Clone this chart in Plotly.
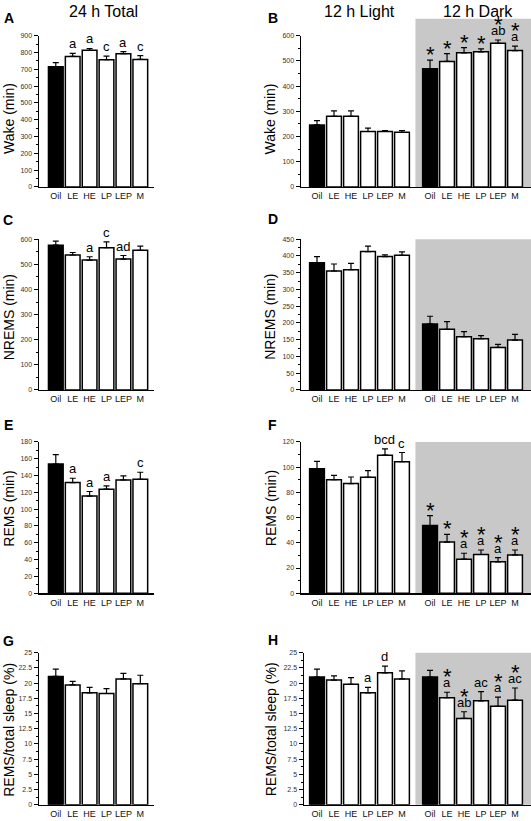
import plotly.graph_objects as go

FONT = "Liberation Sans, Arial, sans-serif"

categories = ["Oil", "LE", "HE", "LP", "LEP", "M"]

# Panel A: Wake 24 h total
wake_24 = [716, 777, 813, 757, 793, 759]
wake_24_err = [24, 18, 11, 22, 12, 22]
wake_24_lab = ["", "a", "a", "c", "a", "c"]

# Panel B: Wake 12 h light / dark
wake_light = [246, 280, 280, 220, 220, 217]
wake_light_err = [17, 22, 22, 13, 4, 7]
wake_light_lab = ["", "", "", "", "", ""]
wake_dark = [469, 498, 532, 536, 570, 541]
wake_dark_err = [34, 31, 21, 12, 13, 18]
wake_dark_lab = ["", "", "", "", "ab", "a"]
wake_dark_star = [1, 1, 1, 1, 1, 1]

# Panel C: NREMS 24 h
nrems_24 = [576, 537, 517, 566, 521, 556]
nrems_24_err = [16, 10, 13, 23, 14, 16]
nrems_24_lab = ["", "", "a", "c", "ad", ""]

# Panel D: NREMS 12 h
nrems_light = [380, 355, 359, 413, 398, 402]
nrems_light_err = [18, 21, 19, 16, 5, 10]
nrems_light_lab = ["", "", "", "", "", ""]
nrems_dark = [197, 181, 159, 153, 127, 149]
nrems_dark_err = [23, 23, 15, 9, 9, 17]
nrems_dark_lab = ["", "", "", "", "", ""]
nrems_dark_star = [0, 0, 0, 0, 0, 0]

# Panel E: REMS 24 h
rems_24 = [153.7, 131.7, 115.6, 123.8, 134.8, 135.6]
rems_24_err = [11.3, 5.1, 5.4, 4.0, 4.7, 8.3]
rems_24_lab = ["", "a", "a", "a", "", "c"]

# Panel F: REMS 12 h
rems_light = [98.8, 90.1, 87.0, 92.0, 109.5, 104.3]
rems_light_err = [5.7, 3.4, 5.2, 5.2, 5.0, 7.3]
rems_light_lab = ["", "", "", "", "bcd", "c"]
rems_dark = [53.7, 40.6, 27.0, 30.7, 24.9, 30.4]
rems_dark_err = [7.9, 6.0, 4.7, 3.6, 3.4, 3.9]
rems_dark_lab = ["", "", "a", "a", "a", "a"]
rems_dark_star = [1, 1, 1, 1, 1, 1]

# Panel G: REMS / total sleep 24 h
ratio_24 = [21.1, 19.7, 18.4, 18.3, 20.7, 19.9]
ratio_24_err = [1.2, 0.6, 0.9, 0.8, 0.9, 1.4]
ratio_24_lab = ["", "", "", "", "", ""]

# Panel H: REMS / total sleep 12 h
ratio_light = [21.0, 20.5, 19.8, 18.4, 21.7, 20.7]
ratio_light_err = [1.3, 0.7, 1.1, 0.9, 1.1, 1.3]
ratio_light_lab = ["", "", "", "a", "d", ""]
ratio_dark = [21.0, 17.6, 14.2, 17.1, 16.2, 17.2]
ratio_dark_err = [1.1, 0.9, 1.1, 1.5, 1.5, 2.0]
ratio_dark_lab = ["", "a", "ab", "ac", "a", "ac"]
ratio_dark_star = [0, 1, 1, 0, 1, 1]

y_titles = ["Wake (min)", "NREMS (min)", "REMS (min)", "REMS/total sleep (%)"]
y_max = [900, 600, 600, 450, 180, 120, 25, 25]
y_dtick = [100, 100, 100, 50, 20, 20, 2.5, 2.5]

W, H = 531, 821
bar_colors = ["black", "white", "white", "white", "white", "white"]

light_x = [0, 1, 2, 3, 4, 5]
dark_off = 6.65
dark_x = [v + dark_off for v in light_x]
shade_start = 5.79

left_range = [-0.994, 5.81]
right_range_end = 12.59

rows_px = [(32, 184.5), (237.2, 389.3), (441.7, 594.3), (654.3, 807.7)]

fig = go.Figure()
annotations = []
shapes = []
layout = {}


def py(p):
    return 1 - p / H


def px(p):
    return p / W


def add_bars(idx, xs, vals, errs, colors):
    fig.add_trace(go.Bar(
        x=xs, y=vals, width=0.87,
        marker=dict(color=colors, line=dict(color="black", width=1.5)),
        error_y=dict(type="data", symmetric=False, array=errs,
                     arrayminus=[0] * len(errs), color="black",
                     thickness=1.2, width=3),
        xaxis="x" if idx == 1 else f"x{idx}",
        yaxis="y" if idx == 1 else f"y{idx}",
        showlegend=False, hoverinfo="skip",
    ))


def add_labels(idx, xs, vals, errs, labs, stars=None):
    xr = "x" if idx == 1 else f"x{idx}"
    yr = "y" if idx == 1 else f"y{idx}"
    for i, x in enumerate(xs):
        top = vals[i] + errs[i]
        lab = labs[i]
        if lab:
            annotations.append(dict(x=x, y=top, xref=xr, yref=yr, text=lab,
                                    showarrow=False, yanchor="bottom",
                                    font=dict(family=FONT, size=13, color="black")))
        if stars and stars[i]:
            shift = 1 if lab else -9
            annotations.append(dict(x=x, y=top, xref=xr, yref=yr, text="*",
                                    showarrow=False, yanchor="bottom", yshift=shift,
                                    font=dict(family=FONT, size=22, color="black")))


def axes(idx, left, row):
    top, bot = rows_px[row]
    if left:
        dom = [px(39), px(154)]
        rng = left_range
        tv = light_x
        tt = categories
    else:
        x0 = 304 if idx == 8 else 301
        dom = [px(x0), 1.0]
        rng = [(x0 - 317) / 17.0, right_range_end]
        tv = light_x + dark_x
        tt = categories + categories
    xn = "xaxis" if idx == 1 else f"xaxis{idx}"
    yn = "yaxis" if idx == 1 else f"yaxis{idx}"
    layout[xn] = dict(domain=dom, range=rng, anchor="y" if idx == 1 else f"y{idx}",
                      showline=True, linecolor="black", linewidth=1.5, ticks="",
                      tickvals=tv, ticktext=tt, showgrid=False, zeroline=False,
                      tickfont=dict(family=FONT, size=9, color="#111"))
    dt = y_dtick[idx - 1]
    layout[yn] = dict(domain=[py(bot), py(top)], range=[0, y_max[idx - 1]],
                      anchor="x" if idx == 1 else f"x{idx}",
                      showline=True, linecolor="black", linewidth=1.5,
                      ticks="outside", ticklen=4, tickwidth=1, tickcolor="black",
                      dtick=dt, tick0=0, showgrid=False, zeroline=False,
                      tickfont=dict(family=FONT, size=7, color="#333"),
                      minor=dict(ticks="outside", ticklen=2, tickwidth=1,
                                 tickcolor="black", dtick=dt / 2, showgrid=False))
    if not left:
        shade_top = py(15) if row == 0 else py(top)
        shapes.append(dict(type="rect", xref="x" + str(idx), yref="paper",
                           x0=shade_start, x1=right_range_end,
                           y0=py(bot), y1=shade_top, layer="below",
                           fillcolor="#c8c8c8", line=dict(width=0)))


panels = [
    (1, True, 0, wake_24, wake_24_err, wake_24_lab, None, None, None, None),
    (2, False, 0, wake_light, wake_light_err, wake_light_lab, wake_dark, wake_dark_err, wake_dark_lab, wake_dark_star),
    (3, True, 1, nrems_24, nrems_24_err, nrems_24_lab, None, None, None, None),
    (4, False, 1, nrems_light, nrems_light_err, nrems_light_lab, nrems_dark, nrems_dark_err, nrems_dark_lab, nrems_dark_star),
    (5, True, 2, rems_24, rems_24_err, rems_24_lab, None, None, None, None),
    (6, False, 2, rems_light, rems_light_err, rems_light_lab, rems_dark, rems_dark_err, rems_dark_lab, rems_dark_star),
    (7, True, 3, ratio_24, ratio_24_err, ratio_24_lab, None, None, None, None),
    (8, False, 3, ratio_light, ratio_light_err, ratio_light_lab, ratio_dark, ratio_dark_err, ratio_dark_lab, ratio_dark_star),
]

for idx, left, row, v1, e1, l1, v2, e2, l2, s2 in panels:
    axes(idx, left, row)
    if left:
        add_bars(idx, light_x, v1, e1, bar_colors)
        add_labels(idx, light_x, v1, e1, l1)
    else:
        add_bars(idx, light_x + dark_x, v1 + v2, e1 + e2, bar_colors + bar_colors)
        add_labels(idx, light_x, v1, e1, l1)
        add_labels(idx, dark_x, v2, e2, l2, s2)

# Titles
for txt, cx in [("24 h Total", 103.5), ("12 h Light", 359.5), ("12 h Dark", 478)]:
    annotations.append(dict(x=px(cx), y=py(7.5), xref="paper", yref="paper", text=txt,
                            showarrow=False, xanchor="center", yanchor="middle",
                            font=dict(family=FONT, size=16, color="black")))

# Panel letters
for txt, cx, cy in [("A", 8.5, 14.5), ("B", 273, 14.5), ("C", 8, 218), ("D", 272.5, 217),
                    ("E", 8.5, 424.5), ("F", 272, 425), ("G", 8.5, 642), ("H", 273, 641)]:
    annotations.append(dict(x=px(cx), y=py(cy), xref="paper", yref="paper",
                            text="<b>" + txt + "</b>", showarrow=False,
                            xanchor="center", yanchor="middle",
                            font=dict(family=FONT, size=14, color="black")))

# Y-axis titles
title_y = [116, 316, 509, 732]
for r, t in enumerate(y_titles):
    for cx in (9, 270.5):
        annotations.append(dict(x=px(cx), y=py(title_y[r]), xref="paper", yref="paper",
                                text=t, showarrow=False, textangle=-90,
                                xanchor="center", yanchor="middle",
                                font=dict(family=FONT, size=14, color="black")))

fig.update_layout(
    width=W, height=H, margin=dict(l=0, r=0, t=0, b=0),
    paper_bgcolor="white", plot_bgcolor="rgba(0,0,0,0)",
    showlegend=False, bargap=0, annotations=annotations, shapes=shapes,
    font=dict(family=FONT), **layout,
)

fig.write_html(
    "out.html",
    config={"displayModeBar": False, "staticPlot": True},
    post_script=(
        "document.documentElement.style.margin='0';"
        "document.documentElement.style.overflow='hidden';"
        "document.body.style.margin='0';"
        "document.body.style.padding='0';"
        "document.body.style.overflow='hidden';"
    ),
)
